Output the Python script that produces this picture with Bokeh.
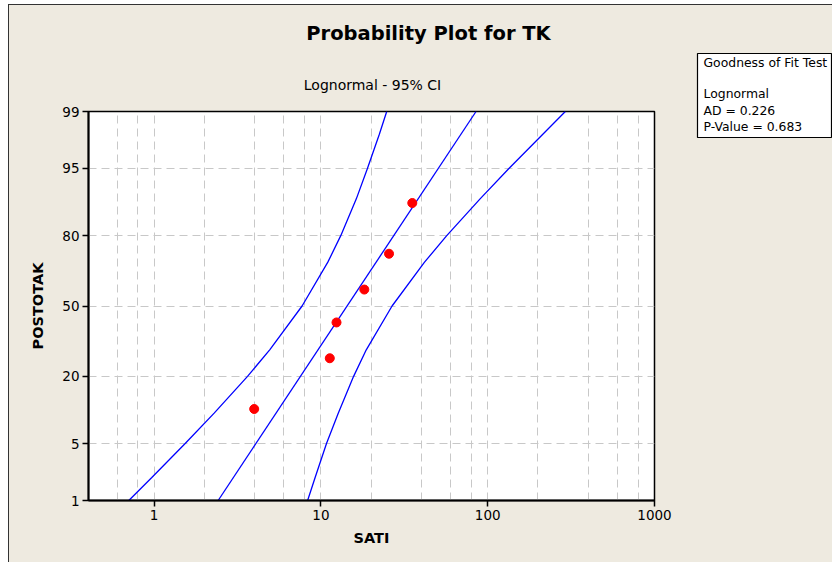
from statistics import NormalDist
from bokeh.plotting import figure
from bokeh.layouts import row, column
from bokeh.models import Range1d, FixedTicker, CustomJSTickFormatter
from bokeh.core.properties import value
from bokeh.embed import file_html
from bokeh.resources import INLINE

# ---------------- data ----------------
SATI = [3.98, 11.3, 12.4, 18.2, 25.6, 35.3]
POSTOTAK = [10.9, 26.6, 42.2, 57.8, 73.4, 89.1]

FIT_P = [1, 99]
FIT_X = [2.42, 85.1]

CI_P = [1, 2, 5, 10, 20, 30, 50, 70, 80, 90, 95, 98, 99]
CI_LEFT_X = [0.705, 0.965, 1.535, 2.29, 3.63, 4.93, 7.71, 11.0, 13.15, 16.3, 19.0, 22.4, 24.8]
CI_RIGHT_X = [8.32, 9.22, 10.8, 12.7, 15.7, 18.7, 26.7, 41.8, 56.8, 90.0, 134.0, 214.0, 292.0]

Y_TICKS = [1, 5, 20, 50, 80, 95, 99]
X_TICKS = [1, 10, 100, 1000]
X_MINOR = [0.6, 0.8, 2, 4, 6, 8, 20, 40, 60, 80, 200, 400, 600, 800]
X_RANGE = (0.404, 1000)

TITLE = "Probability Plot for TK"
SUBTITLE = "Lognormal - 95% CI"
X_LABEL = "SATI"
Y_LABEL = "POSTOTAK"
GOF_TEXT = ["Goodness of Fit Test", "Lognormal", "AD = 0.226", "P-Value = 0.683"]

# ---------------- probability scale (normal quantile) ----------------
ND = NormalDist()


def q(pct):
    return ND.inv_cdf(pct / 100.0)


Y_RANGE = (q(Y_TICKS[0]), q(Y_TICKS[-1]))

BG = "#EEEAE0"
FONT = "DejaVu Sans"
BLUE = "#0000FF"
RED = "#FF0000"
GRID_COLOR = "#C8C8C8"

LEFT_W = 681
HEAD_H = 95
MAIN_H = 462
GOF_W = 142
TOTAL_H = HEAD_H + MAIN_H
FRAME_L, FRAME_W = 79, 566
FRAME_R = LEFT_W - FRAME_L - FRAME_W


def blank_fig(width, height, xr, yr, **kw):
    f = figure(width=width, height=height, x_range=Range1d(*xr), y_range=Range1d(*yr),
               x_axis_location=None, y_axis_location=None, toolbar_location=None,
               output_backend="svg", **kw)
    f.grid.visible = False
    f.border_fill_color = None
    f.title.visible = False
    return f


# ---------------- header (title + subtitle) ----------------
head = blank_fig(LEFT_W, HEAD_H, (FRAME_L, FRAME_L + FRAME_W), (HEAD_H, 0),
                 min_border_left=FRAME_L, min_border_right=FRAME_R,
                 min_border_top=0, min_border_bottom=0)
head.background_fill_color = None
head.outline_line_color = None
head.text(x=[419], y=[28], text=[TITLE], text_font=value(FONT), text_font_style="bold",
          text_font_size="19.5px", text_align="center", text_baseline="middle", text_color="black")
head.text(x=[363], y=[79], text=[SUBTITLE], text_font=value(FONT),
          text_font_size="14px", text_align="center", text_baseline="middle", text_color="black")

# ---------------- main probability plot ----------------
p = figure(
    width=LEFT_W, height=MAIN_H,
    x_axis_type="log",
    x_range=Range1d(*X_RANGE),
    y_range=Range1d(*Y_RANGE),
    min_border_left=FRAME_L, min_border_top=11, min_border_right=FRAME_R, min_border_bottom=62,
    output_backend="svg", toolbar_location=None,
)
p.title.visible = False
p.background_fill_color = "white"
p.border_fill_color = None
p.outline_line_color = "black"
p.outline_line_width = 1.5

xa = p.xaxis[0]
xa.ticker = FixedTicker(ticks=X_TICKS, minor_ticks=X_MINOR)
xa.formatter = CustomJSTickFormatter(code="return String(Math.round(tick));")
ya = p.yaxis[0]
ya.ticker = FixedTicker(ticks=[q(v) for v in Y_TICKS])
ya.formatter = CustomJSTickFormatter(
    args=dict(zs=[q(v) for v in Y_TICKS], labels=[str(v) for v in Y_TICKS]),
    code="""
    for (let i = 0; i < zs.length; i++) {
        if (Math.abs(tick - zs[i]) < 1e-6) { return labels[i]; }
    }
    return "";
    """,
)
for ax in (xa, ya):
    ax.axis_line_width = 2
    ax.axis_line_color = "black"
    ax.major_tick_line_color = "black"
    ax.major_tick_line_width = 1.5
    ax.major_tick_in = 0
    ax.major_tick_out = 6
    ax.minor_tick_line_color = None
    ax.major_label_text_font = FONT
    ax.major_label_text_font_size = "13.5px"
    ax.major_label_text_color = "black"
    ax.major_label_standoff = 3
    ax.axis_label_text_font = FONT
    ax.axis_label_text_font_style = "bold"
    ax.axis_label_text_font_size = "14.5px"
    ax.axis_label_text_color = "black"
xa.axis_label = X_LABEL
ya.axis_label = Y_LABEL
xa.axis_label_standoff = 7
ya.axis_label_standoff = 13

p.xgrid.grid_line_color = GRID_COLOR
p.xgrid.grid_line_dash = "8 5"
p.xgrid.minor_grid_line_color = GRID_COLOR
p.xgrid.minor_grid_line_dash = "8 5"
p.ygrid.grid_line_color = GRID_COLOR
p.ygrid.grid_line_dash = "8 5"

p.line(CI_LEFT_X, [q(v) for v in CI_P], line_color=BLUE, line_width=1.3)
p.line(CI_RIGHT_X, [q(v) for v in CI_P], line_color=BLUE, line_width=1.3)
p.line(FIT_X, [q(v) for v in FIT_P], line_color=BLUE, line_width=1.3)
p.scatter(SATI, [q(v) for v in POSTOTAK], size=9, fill_color=RED, line_color=RED, marker="circle")

# ---------------- goodness-of-fit box ----------------
BOX_W, BOX_H, BOX_TOP = 135, 84, 48
gof = blank_fig(GOF_W, TOTAL_H, (0, BOX_W), (BOX_H, 0),
                min_border_left=GOF_W - BOX_W, min_border_right=0,
                min_border_top=BOX_TOP, min_border_bottom=TOTAL_H - BOX_TOP - BOX_H)
gof.background_fill_color = "white"
gof.outline_line_color = "black"
gof.outline_line_width = 1.2
gof.text(x=[6, 6, 6, 6], y=[9, 40, 56.5, 73], text=GOF_TEXT, text_font=value(FONT),
         text_font_size="12.4px", text_align="left", text_baseline="middle", text_color="black")

root = row(column(head, p), gof,
           styles={"margin-left": "8px", "margin-top": "4px", "background-color": BG,
                   "border-left": "1px solid #333333", "border-top": "1px solid #333333"})

open("out.html", "w").write(file_html(root, INLINE))
